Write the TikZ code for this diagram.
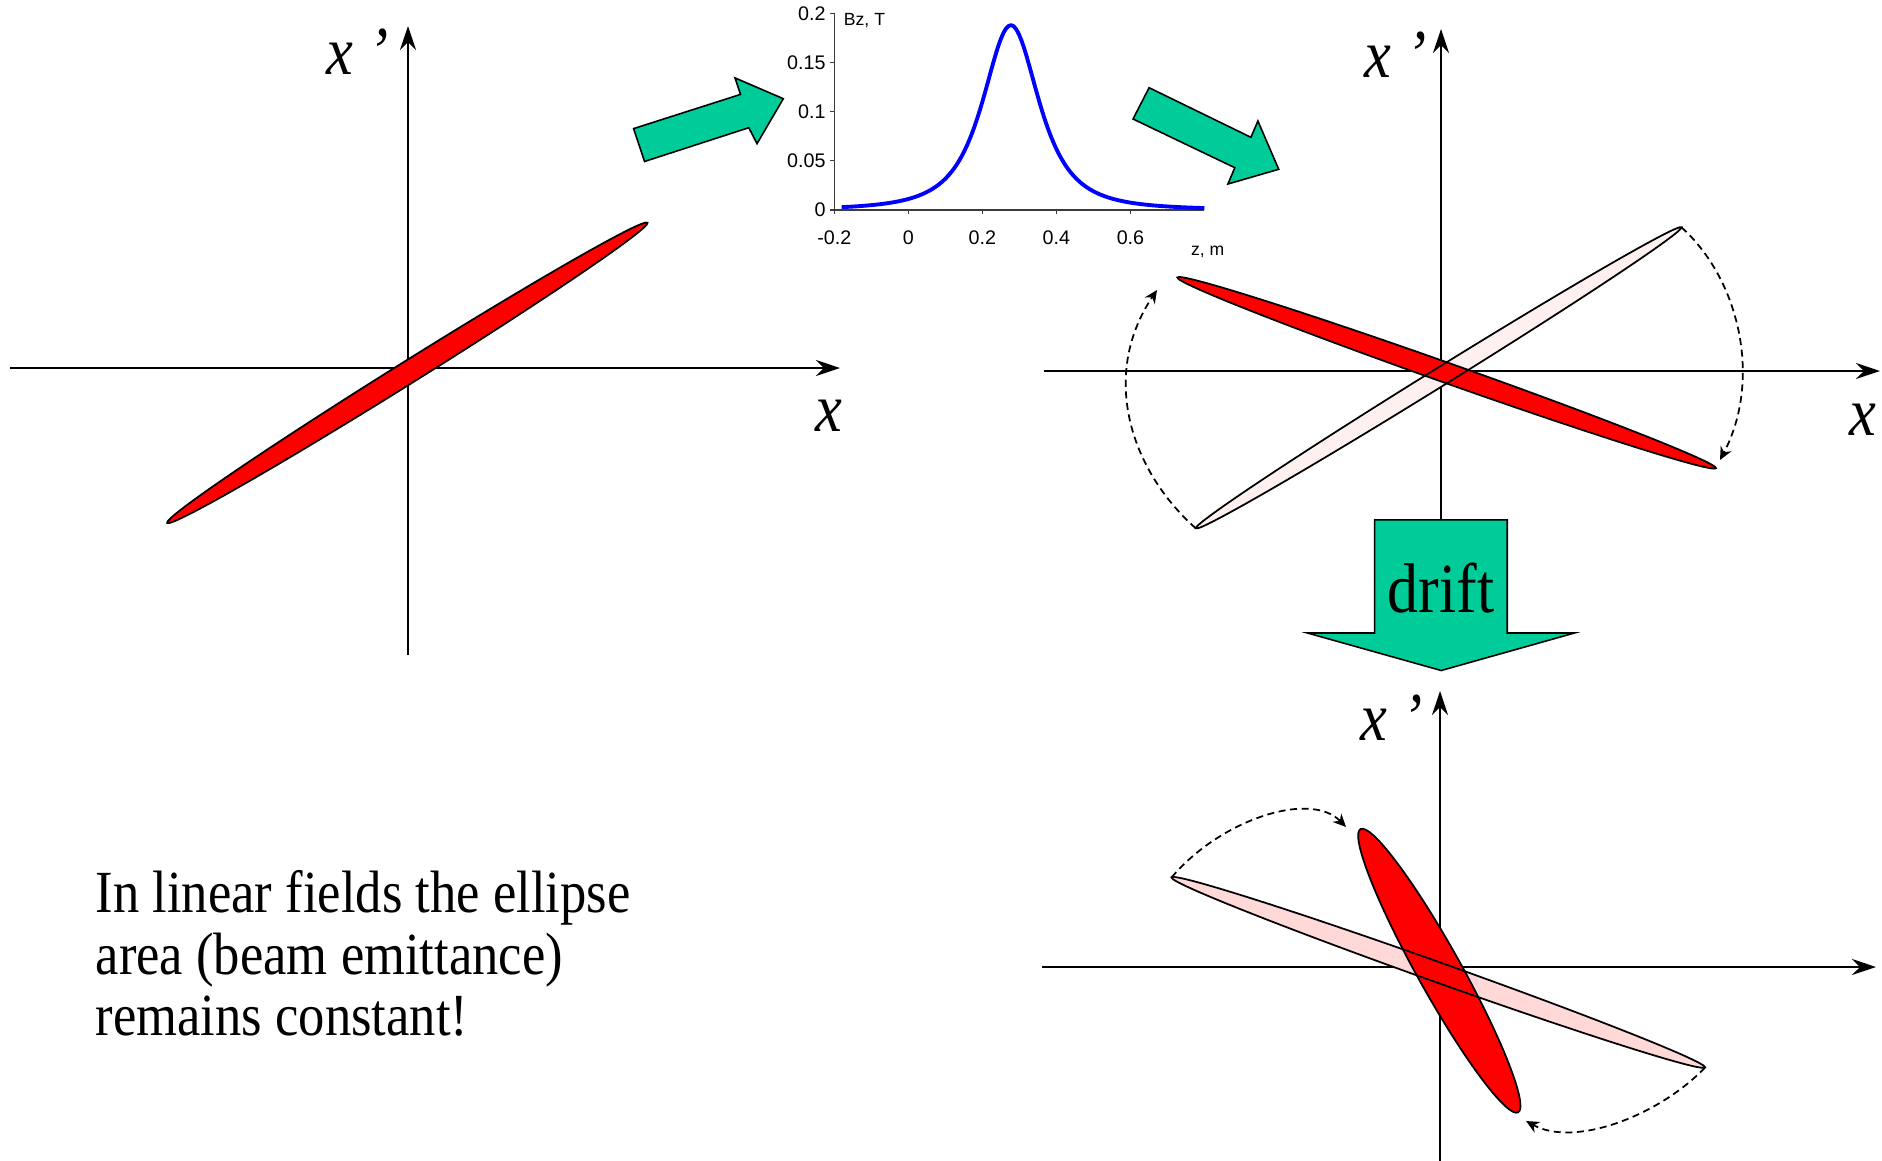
\documentclass[tikz,border=0pt]{standalone}
\usepackage{fontspec}
\setmainfont{Liberation Serif}
\newfontfamily\slidefont[FakeStretch=0.88]{Liberation Serif}
\newfontfamily\plotfont{Liberation Sans}
\usetikzlibrary{arrows.meta,shapes.geometric}
\definecolor{beamred}{RGB}{255,0,0}
\definecolor{paleA}{RGB}{255,240,240}
\definecolor{paleB}{RGB}{255,216,216}
\definecolor{turq}{RGB}{0,204,153}
\definecolor{fieldblue}{RGB}{0,0,255}
\definecolor{plotgray}{RGB}{60,60,60}
\tikzset{
  phaxis/.style={-{Stealth[length=0.24cm,width=0.16cm,inset=0.08cm]},line width=0.75pt},
  ell/.style n args={3}{ellipse,inner sep=0pt,outer sep=0pt,
    minimum width=#1,minimum height=#2,rotate=#3},
  beam/.style={draw,line width=0.5pt,fill=beamred},
  ghost/.style={fill=#1},
  ghostline/.style={draw,line width=0.5pt},
  swing/.style={-{Stealth[length=0.13cm,width=0.12cm]},dash pattern=on 2pt off 1.3pt,line width=0.5pt},
  fat/.style={draw,line width=0.45pt,fill=turq,line join=miter},
  axlbl/.style={font=\slidefont\itshape\fontsize{19.5}{20}\selectfont,inner sep=0pt,anchor=base west},
  paxis/.style={line width=0.35pt,plotgray},
  ticklbl/.style={font=\plotfont\fontsize{5.6}{6}\selectfont,inner sep=0pt},
  ttl/.style={font=\plotfont\fontsize{5}{6}\selectfont,inner sep=0pt},
}

\begin{document}
\begin{tikzpicture}[x=0.01cm,y=-0.01cm]
  \useasboundingbox (0,0) rectangle (1882,1160);

  % left: initial beam
  \coordinate (lxa) at (10,368);   \coordinate (lxb) at (840,368);
  \coordinate (lya) at (408,655);  \coordinate (lyb) at (408,26);
  \draw[phaxis] (lxa) -- (lxb);
  \draw[phaxis] (lya) -- (lyb);
  \node[axlbl] (lxp) at (326,74) {x ’};
  \node[axlbl] (lx) at (815,431) {x};
  \node[beam,ell={5.66cm}{0.22cm}{32}] (bL) at (407.3,372.8) {};

  % lens field
  \draw[fat] (633.6,128.6) -- (644.5,161.5) -- (748.8,127.7) -- (757,143.7)
    -- (783.3,98.7) -- (735,77.9) -- (740.5,94.4) -- cycle;
  \begin{scope}[shift={(908.3,210)},x=3.7cm,y=9.83cm]
    \draw[paxis] (-0.2,0.2) -- (-0.2,0) -- (0.8,0);
    \foreach \v [count=\k] in {0,0.05,0.1,0.15,0.2}{
      \draw[paxis] (-0.2,\v) -- ++(-0.04cm,0);
      \node[ticklbl,anchor=east,xshift=-0.08cm] (yl\k) at (-0.2,\v) {\v};
    }
    \foreach \z [count=\k] in {-0.2,0,0.2,0.4,0.6}{
      \draw[paxis] (\z,0) -- ++(0,-0.04cm);
      \node[ticklbl,yshift=-0.28cm] (xl\k) at (\z,0) {\z};
    }
    \node[ttl,anchor=west,xshift=0.09cm] (bzl) at (-0.2,0.193) {Bz, T};
    \node[ttl] (zml) at (0.8086,-0.0427) {z, m};
    \draw[fieldblue,line width=1.1pt,line join=round]
      plot[domain=-0.18:0.8,samples=140] (\x,{0.188/(1+((\x-0.277)/0.1175)^2)^1.5});
  \end{scope}
  \draw[fat] (1149.1,87.7) -- (1133,119) -- (1234.8,167.7) -- (1227.9,184)
    -- (1278.7,169.3) -- (1257.9,121) -- (1250.9,137.3) -- cycle;

  % right: after the lens
  \coordinate (rxa) at (1044,371);  \coordinate (rxb) at (1880,371);
  \coordinate (rya) at (1441,520);  \coordinate (ryb) at (1441,29);
  \draw[phaxis] (rxa) -- (rxb);
  \draw[phaxis] (rya) -- (ryb);
  \node[axlbl] (rxp) at (1364,77) {x ’};
  \node[axlbl] (rx) at (1849,435) {x};
  \node[ghost=paleA,ell={5.71cm}{0.18cm}{31.8}] (g1) at (1438.6,377.8) {};
  \node[beam,ell={5.71cm}{0.20cm}{-19.5}] (bR) at (1446.6,372.8) {};
  \node[ghostline,ell={5.71cm}{0.18cm}{31.8}] (g1o) at (g1) {};
  \coordinate (t1) at (1720,460);
  \coordinate (t2) at (1157,290);
  \draw[swing] (g1.east) .. controls (1740,280) and (1762,380) .. (t1);
  \draw[swing] (g1.west) .. controls (1130,470) and (1100,375) .. (t2);

  % drift
  \draw[fat] (1374.6,519.8) -- (1507.2,519.8) -- (1507.2,633) -- (1574.4,633)
    -- (1441.2,670.5) -- (1307.5,633) -- (1374.6,633) -- cycle;
  \node[font=\slidefont\fontsize{20}{20}\selectfont,anchor=base,inner sep=0pt] (dlbl)
    at (1441,612) {drift};

  % bottom: after the drift
  \coordinate (bxa) at (1042,967);  \coordinate (bxb) at (1876,967);
  \coordinate (bya) at (1440,1162); \coordinate (byb) at (1440,691);
  \draw[phaxis] (bxa) -- (bxb);
  \draw[phaxis] (bya) -- (byb);
  \node[axlbl] (bxp) at (1360,740) {x ’};
  \node[axlbl] (bx) at (1883,1097) {x};
  \node[ghost=paleB,ell={5.66cm}{0.20cm}{-19.6}] (g2) at (1438.3,972.4) {};
  \node[beam,ell={3.24cm}{0.44cm}{-60.9}] (bB) at (1439.3,970.7) {};
  \node[ghostline,ell={5.66cm}{0.20cm}{-19.6}] (g2o) at (g2) {};
  \coordinate (t3) at (1346,827);
  \coordinate (t4) at (1526,1121);
  \draw[swing] (g2.west) .. controls (1220,820) and (1310,790) .. (t3);
  \draw[swing] (g2.east) .. controls (1660,1115) and (1575,1148) .. (t4);

  \node[font=\slidefont\fontsize{17}{17.5}\selectfont,align=left,anchor=north west,inner sep=0pt]
    (note) at (95,870) {In linear fields the ellipse\\area (beam emittance)\\remains constant!};
\end{tikzpicture}
\end{document}
